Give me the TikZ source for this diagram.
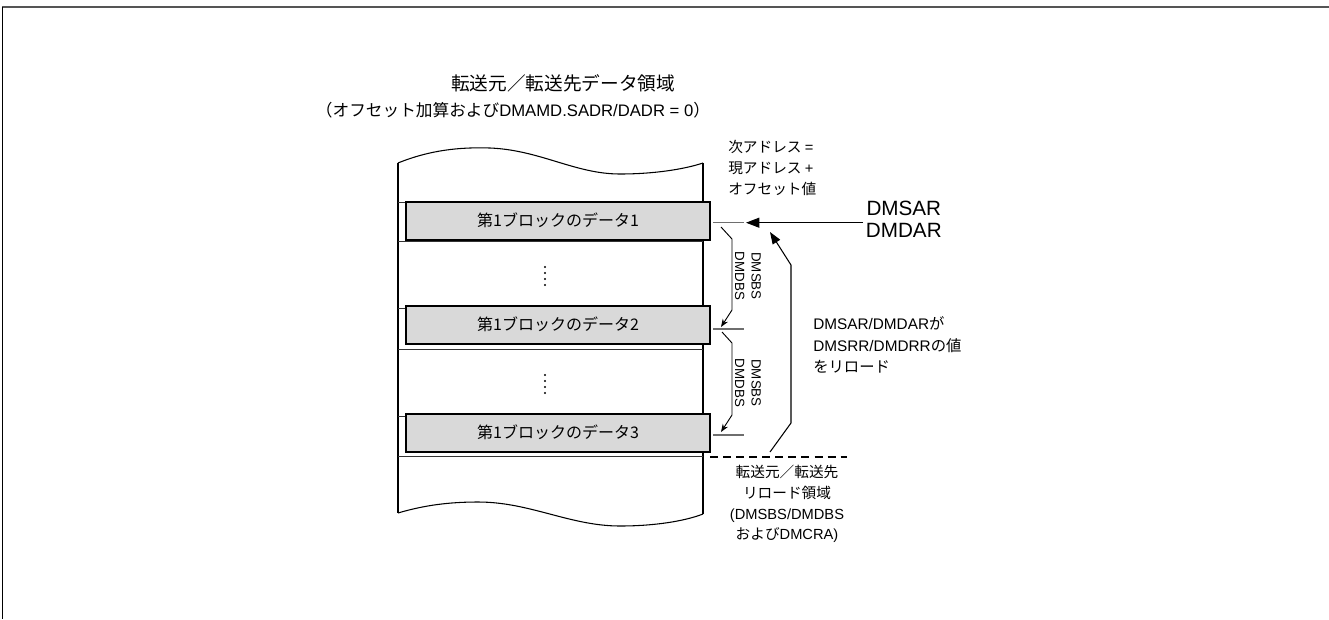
\documentclass[tikz,border=0pt]{standalone}
\usepackage{fontspec}
\setmainfont{Noto Sans CJK JP}
\newfontfamily\latinfont{Liberation Sans}
\usetikzlibrary{arrows.meta, positioning, calc}
\definecolor{blockfill}{RGB}{217, 217, 217}
\definecolor{framegray}{RGB}{85, 85, 85}
\definecolor{tickgray}{RGB}{110, 110, 110}
\newcommand{\lat}[1]{{\latinfont #1}}

\begin{document}
\begin{tikzpicture}[x=0.75pt, y=-0.75pt,
  blockbox/.style={draw, line width=1.5pt, fill=blockfill, inner sep=0pt,
    minimum width=228pt, minimum height=28.5pt, font=\fontsize{12}{14}\selectfont},
  note/.style={inner sep=0pt, font=\fontsize{11}{15.5}\selectfont},
  sizelbl/.style={inner sep=0pt, rotate=-90, align=center, font=\latinfont\fontsize{10}{12.5}\selectfont},
  rowline/.style={draw=black!80, line width=0.7pt},
  tickline/.style={draw=tickgray, line width=0.9pt},
  smallarrow/.style={line width=0.7pt, -{Stealth[length=6pt, width=4.5pt]}},
  bigarrow/.style={line width=0.8pt, -{Triangle[length=10pt, width=7.5pt]}}]
  \useasboundingbox (0,0) rectangle (1329,619);

  % ===== 枠 =====
  \draw[framegray, line width=1.5pt] (2,7) -- (1329,7);
  \draw[line width=0.7pt] (2.7,7) -- (2.7,619);

  % ===== タイトル =====
  \node[font=\fontsize{14}{16}\selectfont] (title) at (563,83) {転送元／転送先データ領域};
  \node[font=\fontsize{12.5}{15}\selectfont] (subtitle) at (513,110)
    {（オフセット加算および\lat{DMAMD.SADR/DADR = 0}）};

  % ===== メモリ領域 =====
  \draw[line width=0.8pt] (398,163) .. controls (430,150) and (460,147) .. (490,148)
    .. controls (540,150) and (575,174) .. (620,174)
    .. controls (655,174) and (685,169) .. (703,163);
  \draw[line width=0.8pt] (398,513) .. controls (425,505) and (450,502) .. (478,502)
    .. controls (530,502) and (570,526) .. (620,526)
    .. controls (655,526) and (685,521) .. (703,514);
  \draw[line width=0.8pt] (398,163) -- (398,513);
  \draw[line width=0.8pt] (703,163) -- (703,514);

  % 行の区切り
  \foreach \y in {202.7, 241.7, 308.3, 349.3, 416.7, 456.7} {
    \draw[rowline] (398,\y) -- (703,\y);
  }

  % ブロック
  \node[blockbox] (blk1) at (558,220.6) {第1ブロックのデータ1};
  \node[blockbox] (blk2) at (558,324.7) {第1ブロックのデータ2};
  \node[blockbox] (blk3) at (558,432.5) {第1ブロックのデータ3};

  % 省略記号
  \foreach \y in {267, 273, 279, 285, 375, 381, 387, 393} {
    \fill (545,\y) circle (1.1);
  }

  % ===== アドレス目盛り =====
  \coordinate (tick1) at (744,222.7);
  \coordinate (tick2) at (744,329);
  \coordinate (tick3) at (744,435);
  \draw[tickline] (713,222.7) -- (tick1);
  \draw[tickline] (713,329) -- (tick2);
  \draw[tickline] (713,435) -- (tick3);

  % ===== 次アドレス注記 =====
  \node[note, anchor=west, align=left] (nextaddr) at (728,168)
    {次アドレス \lat{=}\\現アドレス \lat{+}\\オフセット値};

  % ===== DMSAR/DMDAR =====
  \node[inner sep=2pt, anchor=west, align=center, font=\latinfont\fontsize{15.5}{16.5}\selectfont]
    (dmsar) at (863,219) {DMSAR\\DMDAR};
  \draw[bigarrow] (dmsar.west |- tick1) -- (746,222.7);

  % ===== ブロックサイズ =====
  \draw[smallarrow] (721,227) -- (732,239) -- (732,310) -- (721,327);
  \draw[smallarrow] (722,332) -- (732,343) -- (732,415) -- (721,432);
  \node[sizelbl] (bs1) at (748,276) {DMSBS\\DMDBS};
  \node[sizelbl] (bs2) at (748,383) {DMSBS\\DMDBS};

  % ===== リロード =====
  \draw[line width=0.9pt, dash pattern=on 6pt off 3.8pt] (710,457) coordinate (dashl) -- (847,457) coordinate (dashr);
  \draw[bigarrow, -{Triangle[length=9pt, width=6.5pt]}] (770,452) -- (791,423) -- (791,265) -- (770,232);
  \node[note, anchor=west, align=left, font=\fontsize{11.5}{16}\selectfont] (reload) at (813,345)
    {\lat{DMSAR/DMDAR}が\\\lat{DMSRR/DMDRR}の値\\をリロード};
  \node[note, align=center, font=\fontsize{11}{15.5}\selectfont] (region) at (787,504)
    {転送元／転送先\\リロード領域\\\lat{(DMSBS/DMDBS}\\および\lat{DMCRA)}};
\end{tikzpicture}
\end{document}
